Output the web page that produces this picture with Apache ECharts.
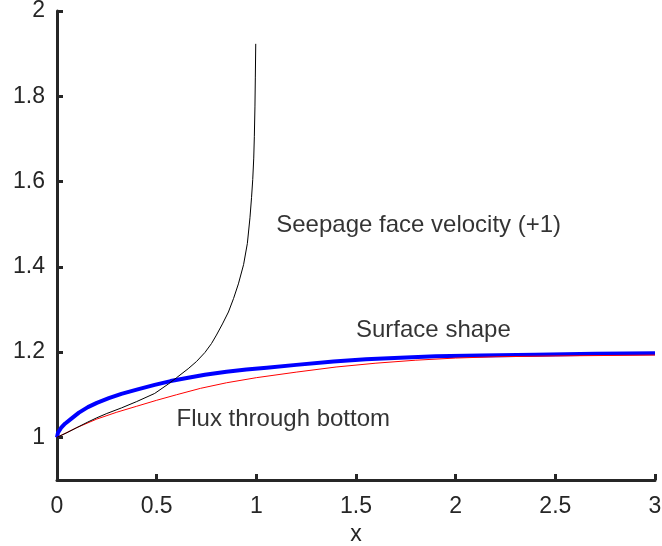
<!DOCTYPE html>
<html><head><meta charset="utf-8">
<script src="https://cdn.jsdelivr.net/npm/echarts@6/dist/echarts.min.js"></script>
<style>html,body{margin:0;padding:0;background:#fff}#c{width:662px;height:546px}</style>
</head><body><div id="c"></div>
<script>
var xTicks = [0, 0.5, 1, 1.5, 2, 2.5, 3];
var yTicks = [1, 1.2, 1.4, 1.6, 1.8, 2];
var surfaceShape = [[0,1.0],[0.005,1.011],[0.02,1.022],[0.04,1.032],[0.072,1.044],[0.11,1.058],[0.155,1.071],[0.2,1.081],[0.26,1.092],[0.323,1.102],[0.4,1.112],[0.49,1.123],[0.57,1.132],[0.658,1.140],[0.742,1.147],[0.85,1.154],[0.95,1.159],[1.052,1.163],[1.2,1.170],[1.387,1.178],[1.55,1.183],[1.722,1.187],[1.9,1.190],[2.124,1.192],[2.4,1.194],[2.7,1.196],[3,1.197]];
var fluxBottom = [[0,1.0],[0.1,1.023],[0.2,1.043],[0.3,1.059],[0.4,1.073],[0.5,1.087],[0.6,1.100],[0.72,1.115],[0.85,1.128],[1.0,1.140],[1.2,1.153],[1.4,1.165],[1.6,1.174],[1.8,1.181],[2.0,1.186],[2.2,1.189],[2.5,1.191],[3.0,1.193]];
var seepageVel = [[0,1.0],[0.05,1.011],[0.1,1.023],[0.155,1.036],[0.2,1.046],[0.25,1.056],[0.323,1.069],[0.4,1.084],[0.49,1.103],[0.558,1.125],[0.6,1.140],[0.658,1.161],[0.7,1.178],[0.742,1.199],[0.775,1.220],[0.8,1.240],[0.83,1.266],[0.86,1.294],[0.886,1.326],[0.91,1.360],[0.936,1.405],[0.955,1.455],[0.968,1.515],[0.976,1.563],[0.982,1.605],[0.987,1.655],[0.990,1.705],[0.993,1.775],[0.995,1.845],[0.997,1.923]];
var notes = [[1.1, 1.497, 'Seepage face velocity (+1)'], [1.5, 1.250, 'Surface shape'], [0.6, 1.043, 'Flux through bottom']];

var chart = echarts.init(document.getElementById('c'));
var font = 'Liberation Sans, Arial, Helvetica, sans-serif';
chart.setOption({
  animation: false,
  grid: {left: 57, right: 7, top: 11, bottom: 66, containLabel: false, outerBoundsMode: 'none'},
  xAxis: {
    type: 'value', min: 0, max: 3, interval: 0.5,
    name: 'x', nameLocation: 'middle', nameGap: 39,
    nameTextStyle: {color: '#262626', fontSize: 23, fontFamily: font},
    axisLine: {show: true, lineStyle: {color: '#262626', width: 3}},
    axisTick: {show: true, inside: true, length: 6, lineStyle: {color: '#262626', width: 3}},
    axisLabel: {color: '#262626', fontSize: 23, fontFamily: font, margin: 15,
      formatter: function(v){ return String(v); }},
    splitLine: {show: false}
  },
  yAxis: {
    type: 'value', min: 0.9, max: 2,
    axisLine: {show: true, onZero: false, lineStyle: {color: '#262626', width: 3}},
    axisTick: {show: true, inside: true, length: 6, customValues: yTicks, lineStyle: {color: '#262626', width: 3}},
    axisLabel: {color: '#262626', fontSize: 23, fontFamily: font, margin: 12, customValues: yTicks,
      formatter: function(v){ return String(Math.round(v*10)/10); }},
    splitLine: {show: false}
  },
  series: [
    {type: 'line', data: fluxBottom, symbol: 'none', smooth: false, lineStyle: {color: '#ff0000', width: 1}, z: 3},
    {type: 'line', data: surfaceShape, symbol: 'none', smooth: false, lineStyle: {color: '#0000ff', width: 4, join: 'round'}, z: 2},
    {type: 'line', data: seepageVel, symbol: 'none', smooth: false, lineStyle: {color: '#000000', width: 1}, z: 4},
    {type: 'scatter', data: notes, symbolSize: 0, silent: true,
      label: {show: true, position: 'right', distance: 0, color: '#000', fontSize: 24, fontFamily: font,
        formatter: function(p){ return p.data[2]; }}}
  ]
});
</script></body></html>
